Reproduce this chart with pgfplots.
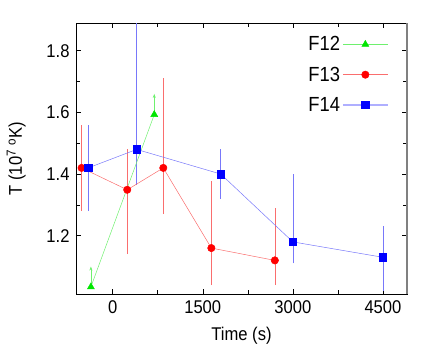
\documentclass[border=0pt]{standalone}
\usepackage{fontspec}
\setmainfont{Liberation Sans}[FakeStretch=0.9]
\usepackage{pgfplots}
\usepackage{pgfplotstable}
\pgfplotsset{compat=1.18}
\usetikzlibrary{arrows.meta}
\definecolor{gmark}{RGB}{0,230,0}
\definecolor{gline}{RGB}{110,240,110}
\definecolor{rline}{RGB}{250,110,110}
\definecolor{bline}{RGB}{120,120,250}
\definecolor{blegend}{RGB}{175,175,255}
\pgfplotstableread{
x y
-362 1.034
693 1.593
}\ftwelve
\pgfplotstableread{
x y v
-362 1.034 0.066
693 1.593 0.067
}\ftwelvearrows
\pgfplotstableread{
x y
-517 1.42
243 1.349
843 1.42
1643 1.16
2700 1.12
}\fthirteen
\pgfplotstableread{
x y
-517 1.28
-517 1.56
nan nan
243 1.14
243 1.48
nan nan
843 1.27
843 1.71
nan nan
1643 1.04
1643 1.378
nan nan
2700 1.04
2700 1.29
}\fthirteenerr
\pgfplotstableread{
x y
-407 1.42
400 1.48
1800 1.40
3000 1.18
4500 1.13
}\ffourteen
\pgfplotstableread{
x y
-407 1.28
-407 1.56
nan nan
400 1.365
400 1.89
nan nan
1800 1.32
1800 1.48
nan nan
3000 1.11
3000 1.40
nan nan
4500 1.02
4500 1.23
}\ffourteenerr
\begin{document}
\begin{tikzpicture}
\begin{axis}[name=ax, width=331bp, height=271bp, scale only axis,
 xmin=-610, xmax=4900, ymin=1.011, ymax=1.89,
 xtick={0,1500,3000,4500}, ytick={1.2,1.4,1.6,1.8},
 minor x tick num=1, minor y tick num=1,
 tick align=inside, major tick length=5bp, minor tick length=4bp,
 tick style={black, line width=0.5pt},
 axis line style={line width=0.8pt},
 unbounded coords=jump,
 /pgf/number format/assume math mode=true,
 yticklabel style={xshift=-3bp, /pgf/number format/.cd, fixed, precision=1, fixed zerofill},
 xticklabel style={yshift=-3bp, /pgf/number format/1000 sep={}},
 tick label style={font=\fontsize{18.5}{20}\selectfont},
 label style={font=\fontsize{18.5}{20}\selectfont},
 xlabel={Time (s)}, ylabel={T (10\textsuperscript{7} \textsuperscript{o}K)},
 xlabel style={yshift=-7bp},
 ylabel style={yshift=14bp},
 legend style={draw=none, fill=none, font=\fontsize{20.5}{22}\selectfont,
   at={(0.945,0.958)}, anchor=north east, row sep=10.5bp, inner sep=0pt},
 legend cell align=right, legend plot pos=right,
 legend image code/.code={\draw[#1, mark repeat=2, mark phase=2] plot coordinates {(0bp,0bp) (22.5bp,0bp) (45bp,0bp)};},
]
\addplot[draw=rline, line width=0.6pt, forget plot] table[x=x, y=y]{\fthirteenerr};
\addplot[draw=bline, line width=0.6pt, forget plot] table[x=x, y=y]{\ffourteenerr};
\addplot[gline, line width=0.5pt, mark=triangle*, mark size=4bp,
  mark options={fill=gmark, draw=gmark}]
  table[x=x, y=y]{\ftwelve};
\addplot[rline, line width=0.5pt, mark=*, mark size=3.7bp,
  mark options={fill=red, draw=red}]
  table[x=x, y=y]{\fthirteen};
\addplot[bline, line width=0.5pt, mark=square*, mark size=3.7bp,
  mark options={fill=blue, draw=blue}]
  table[x=x, y=y]{\ffourteen};
\addlegendimage{blegend, line width=1.5pt, mark=square*, mark size=3.7bp, mark options={fill=blue, draw=blue, line width=0.5pt}}
\addplot[gline, line width=0.5pt, -{Stealth[length=4bp, width=3bp]}, quiver={u=0, v=\thisrow{v}}, forget plot]
  table[x=x, y=y]{\ftwelvearrows};
\legend{F12, F13, , F14}
\end{axis}
\draw[gray, line width=1.5pt] (ax.south east) -- (ax.north east);
\pgfresetboundingbox
\useasboundingbox ([xshift=-76bp,yshift=-60bp]ax.south west) rectangle ([xshift=29bp,yshift=23bp]ax.north east);
\end{tikzpicture}
\end{document}
